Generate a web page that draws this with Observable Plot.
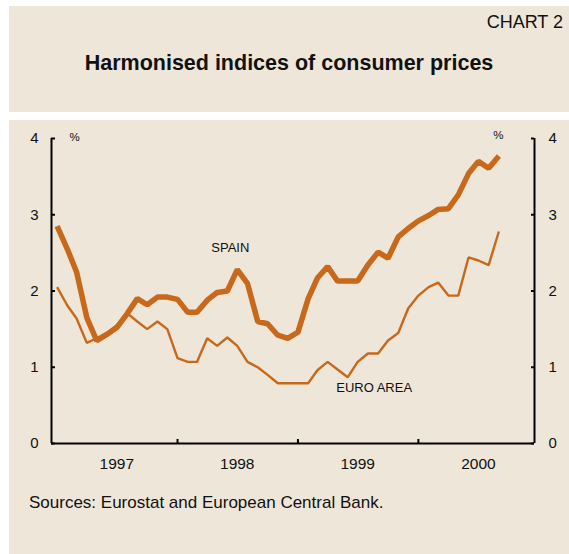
<!DOCTYPE html>
<html><head><meta charset="utf-8">
<script src="https://cdn.jsdelivr.net/npm/d3@7"></script>
<script src="https://cdn.jsdelivr.net/npm/@observablehq/plot@0.6"></script>
<style>
html,body{margin:0;padding:0;background:#fff;width:569px;height:554px;overflow:hidden;font-family:"Liberation Sans",Arial,sans-serif;color:#111;}
#head{position:absolute;left:9px;top:6px;width:560px;height:106px;background:#eee6d8;}
#chartno{position:absolute;right:6px;top:7px;font-size:18px;line-height:1;}
#title{position:absolute;left:0;width:100%;top:47px;text-align:center;font-weight:bold;font-size:21.5px;line-height:1;}
#panel{position:absolute;left:9px;top:120px;width:560px;height:434px;background:#eee6d8;}
#plot{position:absolute;left:0;top:0;}
#source{position:absolute;left:20px;top:374px;font-size:17px;line-height:1;}
</style></head><body>
<div id="head"><div id="chartno">CHART 2</div><div id="title">Harmonised indices of consumer prices</div></div>
<div id="panel"><div id="plot"></div><div id="source">Sources: Eurostat and European Central Bank.</div></div>
<script>
const spain = [2.85,2.55,2.25,1.65,1.35,1.43,1.52,1.70,1.90,1.82,
               1.92,1.92,1.89,1.72,1.72,1.88,1.98,2.00,2.28,2.10,
               1.60,1.57,1.42,1.38,1.46,1.90,2.17,2.32,2.13,2.13,
               2.13,2.34,2.51,2.43,2.71,2.82,2.92,2.99,3.07,3.08,
               3.26,3.54,3.70,3.61,3.77];
const euroArea = [2.05,1.81,1.64,1.32,1.38,1.45,1.55,1.71,1.60,1.50,
                  1.60,1.50,1.12,1.07,1.07,1.38,1.28,1.39,1.28,1.07,
                  1.00,0.90,0.79,0.79,0.79,0.79,0.96,1.07,0.97,0.87,
                  1.07,1.18,1.18,1.35,1.45,1.77,1.94,2.05,2.11,1.94,
                  1.94,2.44,2.40,2.34,2.78];
const startMonth = "1997-01-01";
const yTicks = [0, 1, 2, 3, 4];
const yearLabels = ["1997", "1998", "1999", "2000"];
const yearBoundaries = ["1998-01-01", "1999-01-01", "2000-01-01"];
const seriesLabels = [
  {name: "SPAIN", date: "1998-06-10", value: 2.57},
  {name: "EURO AREA", date: "1999-08-20", value: 0.725}
];

const months = d3.utcMonth.range(new Date(startMonth), d3.utcMonth.offset(new Date(startMonth), spain.length));
const spainData = months.map((d, i) => ({date: d, value: spain[i]}));
const euroData = months.map((d, i) => ({date: d, value: euroArea[i]}));
const xDomain = [new Date("1996-12-15"), new Date("2000-12-18")];
const yearMid = yearLabels.map(y => new Date(y + "-07-01"));
const boundaries = yearBoundaries.map(d => new Date(d));

const W = 560, H = 360, mL = 42, mR = 35, mT = 18, mB = 37;
const innerW = W - mL - mR, innerH = H - mT - mB;
const orange = "#c8681b";

const chart = Plot.plot({
  width: W, height: H,
  marginLeft: mL, marginRight: mR, marginTop: mT, marginBottom: mB,
  style: {background: "transparent", fontFamily: "'Liberation Sans', Arial, sans-serif", color: "#111"},
  x: {type: "utc", domain: xDomain, axis: null},
  y: {domain: [0, 4], axis: null},
  marks: [
    Plot.line(euroData, {x: "date", y: "value", stroke: orange, strokeWidth: 2.4, strokeLinejoin: "miter", strokeLinecap: "butt"}),
    Plot.line(spainData, {x: "date", y: "value", stroke: orange, strokeWidth: 5.5, strokeLinejoin: "miter", strokeLinecap: "butt"}),
    Plot.ruleY([0], {stroke: "#000", strokeWidth: 2}),
    Plot.ruleX(xDomain, {y1: 0, y2: 4, stroke: "#000", strokeWidth: 2}),
    Plot.tickY(yTicks, {y: d => d, insetRight: innerW - 4, stroke: "#000", strokeWidth: 2}),
    Plot.tickY(yTicks, {y: d => d, insetLeft: innerW - 3, stroke: "#000", strokeWidth: 2}),
    Plot.tickX(boundaries, {x: d => d, insetTop: innerH - 4, stroke: "#000", strokeWidth: 2}),
    Plot.text(yTicks, {y: d => d, text: d => String(d), frameAnchor: "left", textAnchor: "end", dx: -13, fontSize: 15, fill: "#111"}),
    Plot.text(yTicks, {y: d => d, text: d => String(d), frameAnchor: "right", textAnchor: "start", dx: 14, fontSize: 15, fill: "#111"}),
    Plot.text(yearLabels, {x: (d, i) => yearMid[i], text: d => d, frameAnchor: "bottom", dy: 25, fontSize: 15.5, fill: "#111"}),
    Plot.text(["%"], {frameAnchor: "top-left", dx: 18, dy: -6, fontSize: 11.5, fill: "#111"}),
    Plot.text(["%"], {frameAnchor: "top-right", dx: -31, dy: -8, fontSize: 11.5, fill: "#111"}),
    Plot.text(seriesLabels, {x: d => new Date(d.date), y: "value", text: "name", fontSize: 13, fill: "#111"})
  ]
});
document.getElementById("plot").appendChild(chart);
</script>
</body></html>
